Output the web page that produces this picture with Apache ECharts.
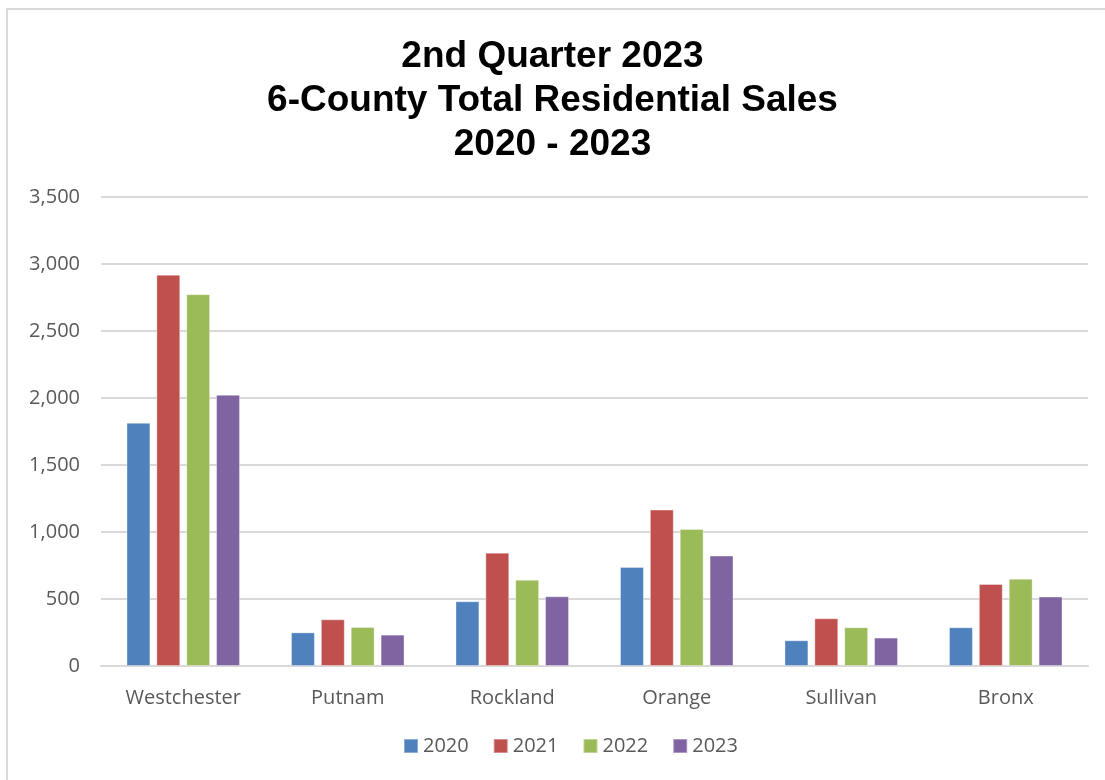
<!DOCTYPE html>
<html>
<head>
<meta charset="utf-8">
<script src="https://cdn.jsdelivr.net/npm/echarts@6/dist/echarts.min.js"></script>
<style>
html,body{margin:0;padding:0;background:#fff;}
#chart{width:1105px;height:780px;}
</style>
</head>
<body>
<div id="chart"></div>
<script>
const categories = ['Westchester', 'Putnam', 'Rockland', 'Orange', 'Sullivan', 'Bronx'];
const seriesNames = ['2020', '2021', '2022', '2023'];
const sales2020 = [1815, 251, 483, 739, 192, 289];
const sales2021 = [2920, 348, 846, 1167, 356, 612];
const sales2022 = [2775, 291, 644, 1022, 289, 652];
const sales2023 = [2024, 234, 520, 824, 212, 518];
const colors = ['#4F81BD', '#C0504D', '#9BBB59', '#8064A2'];
const titleLines = ['2nd Quarter 2023', '6-County Total Residential Sales', '2020 - 2023'];

const allData = [sales2020, sales2021, sales2022, sales2023];
const chart = echarts.init(document.getElementById('chart'));
const labelFont = '"Open Sans", "Noto Sans", sans-serif';

chart.setOption({
  animation: false,
  backgroundColor: '#ffffff',
  graphic: [{
    type: 'polyline',
    shape: { points: [[7, 790], [7, 9], [1110, 9]] },
    style: { stroke: '#d9d9d9', lineWidth: 2, fill: null },
    silent: true
  }],
  title: {
    text: titleLines.join('\n'),
    left: 'center',
    top: 30,
    textStyle: {
      fontFamily: '"Liberation Sans", Arial, sans-serif',
      fontWeight: 'bold',
      fontSize: 37,
      lineHeight: 44,
      color: '#000000'
    }
  },
  legend: {
    data: seriesNames,
    bottom: 19,
    left: 398,
    icon: 'rect',
    itemWidth: 14,
    itemHeight: 14,
    itemGap: 24,
    textStyle: { fontFamily: labelFont, fontSize: 20, color: '#595959', padding: [0, 0, 0, 0] }
  },
  grid: { left: 101, right: 17, top: 197, bottom: 114, containLabel: false },
  xAxis: {
    type: 'category',
    data: categories,
    axisTick: { show: false },
    axisLine: { show: true, lineStyle: { color: '#d9d9d9', width: 2 } },
    axisLabel: { fontFamily: labelFont, fontSize: 20, color: '#595959', margin: 22 }
  },
  yAxis: {
    type: 'value',
    min: 0,
    max: 3500,
    interval: 500,
    axisLine: { show: false },
    axisTick: { show: false },
    splitLine: { lineStyle: { color: '#d9d9d9', width: 2 } },
    axisLabel: {
      fontFamily: labelFont, fontSize: 20, color: '#595959', margin: 21,
      formatter: v => v.toLocaleString('en-US')
    }
  },
  series: seriesNames.map((name, i) => ({
    name: name,
    type: 'bar',
    data: allData[i],
    barGap: '25%',
    barCategoryGap: '31%',
    itemStyle: { color: colors[i], borderColor: 'rgba(255,255,255,0.35)', borderWidth: 1 }
  }))
});
</script>
</body>
</html>
